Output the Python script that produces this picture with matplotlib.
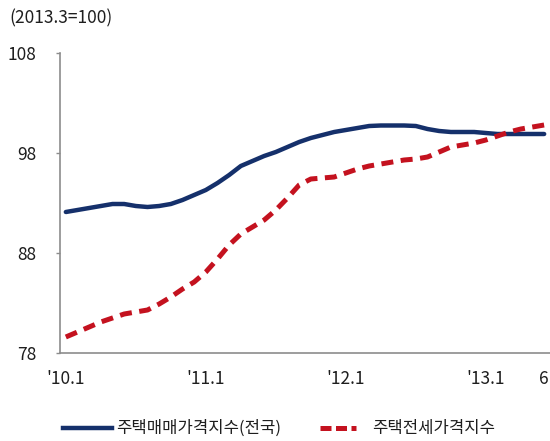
import matplotlib
matplotlib.use("Agg")
import matplotlib.pyplot as plt
from matplotlib.lines import Line2D
import numpy as np

plt.rcParams['font.family'] = ['Noto Sans CJK KR', 'DejaVu Sans']

sale_index = [92.1, 92.3, 92.5, 92.7, 92.9, 92.9, 92.7, 92.6, 92.7, 92.9,
              93.3, 93.8, 94.3, 95.0, 95.8, 96.7, 97.2, 97.7, 98.1, 98.6,
              99.1, 99.5, 99.8, 100.1, 100.3, 100.5, 100.7, 100.75, 100.75, 100.75,
              100.7, 100.4, 100.2, 100.1, 100.1, 100.1, 100.0, 99.9, 99.9, 99.9,
              99.9, 99.9]
jeonse_index = [79.6, 80.1, 80.6, 81.1, 81.5, 81.9, 82.1, 82.3, 82.9, 83.6,
                84.4, 85.1, 86.1, 87.4, 88.8, 89.9, 90.6, 91.3, 92.3, 93.5,
                94.8, 95.4, 95.5, 95.6, 96.0, 96.4, 96.7, 96.9, 97.1, 97.3,
                97.4, 97.6, 98.1, 98.6, 98.8, 99.0, 99.3, 99.7, 100.1, 100.4,
                100.6, 100.8]
tick_positions = [0, 12, 24, 36, 41]
tick_labels = ["'10.1", "'11.1", "'12.1", "'13.1", "6"]
y_ticks = [78, 88, 98, 108]
series_names = ["주택매매가격지수(전국)", "주택전세가격지수"]
unit_label = "(2013.3=100)"

BLUE = '#15306b'
RED = '#c4121f'
TXT = '#1e1e1e'
W, H = 550, 441

x = np.arange(len(sale_index))

fig = plt.figure(figsize=(5.5, 4.41), dpi=100)
ax = fig.add_axes([60/W, 1-353/H, 490/W, 300/H])

ax.plot(x, sale_index, color=BLUE, lw=3.2, solid_capstyle='round')
ax.plot(x, jeonse_index, color=RED, lw=3.6, dashes=(2.4, 1.5))

ax.set_xlim(-0.5, 41.5)
ax.set_ylim(78, 108)
ax.set_yticks(y_ticks)
ax.set_xticks(tick_positions)
ax.set_xticklabels(tick_labels)

for s in ['top', 'right']:
    ax.spines[s].set_visible(False)
for s in ['left', 'bottom']:
    ax.spines[s].set_color('#8c8c8c')
    ax.spines[s].set_linewidth(1.2)

ax.tick_params(axis='x', length=0, pad=12, labelsize=12.5, colors=TXT)
ax.tick_params(axis='y', length=3, width=1, color='#8c8c8c', pad=14, labelsize=12.5, labelcolor=TXT)
for lab in ax.get_xticklabels() + ax.get_yticklabels():
    lab.set_fontweight('medium')

fig.text(9/W, 1-18/H, unit_label, fontsize=12.5, fontweight='medium', color=TXT, va='center', ha='left')

# legend drawn manually (different handle lengths as in the reference)
ly = 1 - 428/H
fig.add_artist(Line2D([63/W, 112/W], [ly, ly], color=BLUE, lw=3.2, transform=fig.transFigure))
fig.text(116/W, ly, series_names[0], fontsize=12, fontweight='medium', color=TXT, va='center', ha='left')
fig.add_artist(Line2D([320/W, 356/W], [ly, ly], color=RED, lw=3.6, dashes=(2.2, 0.9), transform=fig.transFigure))
fig.text(372/W, ly, series_names[1], fontsize=12, fontweight='medium', color=TXT, va='center', ha='left')

fig.savefig('out.png', dpi=100)
